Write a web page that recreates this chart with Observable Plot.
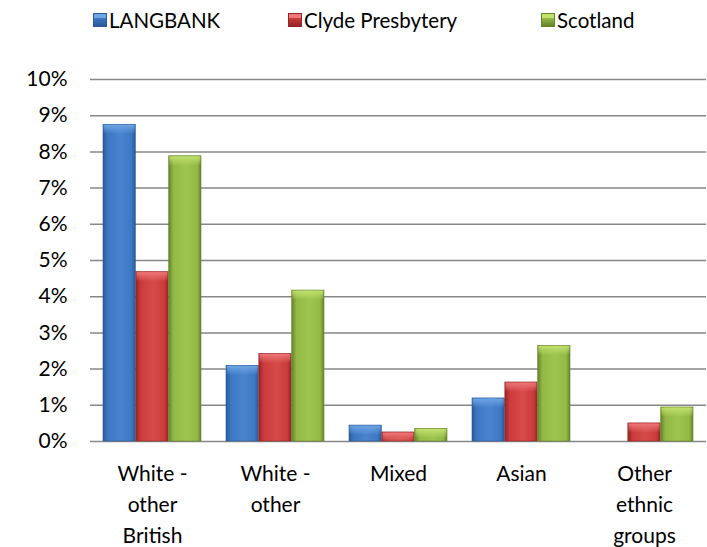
<!DOCTYPE html>
<html>
<head>
<meta charset="utf-8">
<script src="https://cdn.jsdelivr.net/npm/d3@7"></script>
<script src="https://cdn.jsdelivr.net/npm/@observablehq/plot@0.6"></script>
<style>
  body { margin: 0; background: #fff; font-family: Lato, "Open Sans", sans-serif; }
  #legend { position: relative; width: 707px; height: 40px; font-size: 20.5px; color: #000; }
  .item { position: absolute; top: 8px; display: flex; align-items: center; height: 24px; white-space: nowrap; }
  .sw { width: 12px; height: 12px; margin-right: 2px; }
</style>
</head>
<body>
<div id="legend"></div>
<div id="chart"></div>
<script>
const categories = ["White - other British", "White - other", "Mixed", "Asian", "Other ethnic groups"];
const tickLabels = ["White -\nother\nBritish", "White -\nother", "Mixed", "Asian", "Other\nethnic\ngroups"];
const series = ["LANGBANK", "Clyde Presbytery", "Scotland"];
const langbank = [8.75, 2.09, 0.44, 1.19, null];
const clyde = [4.68, 2.42, 0.25, 1.63, 0.50];
const scotland = [7.88, 4.17, 0.35, 2.64, 0.94];
const yTicks = [0, 1, 2, 3, 4, 5, 6, 7, 8, 9, 10];

const values = [langbank, clyde, scotland];
const baseColors = ["#3d78c4", "#cc3b3b", "#93ba46"];
const lightColors = ["#6fa6e6", "#ef7a7a", "#c2e26e"];
const darkColors = ["#2a5a98", "#952525", "#65832b"];

const rows = [];
series.forEach((s, i) => categories.forEach((c, j) => rows.push({series: s, si: i, category: c, value: values[i][j]})));

// legend
const legendLefts = [93, 288, 541];
const legend = document.getElementById("legend");
series.forEach((s, i) => {
  const it = document.createElement("div");
  it.className = "item";
  it.style.left = legendLefts[i] + "px";
  it.innerHTML = `<span class="sw" style="background:linear-gradient(${lightColors[i]} 0 35%, ${baseColors[i]} 35%, ${darkColors[i]});border:0.5px solid ${darkColors[i]}"></span><span>${s}</span>`;
  legend.appendChild(it);
});

const left = 90, right = 706, n = categories.length;
const bw = (right - left) / n * 0.8;
const sub = bw / 3;

const barMarks = series.flatMap((s, i) => {
  const d = rows.filter(r => r.si === i && r.value != null);
  return [
    Plot.barY(d, {
      x: "category", y: "value",
      fill: `url(#bar${i})`, stroke: darkColors[i], strokeWidth: 0.6,
      insetLeft: i * sub, insetRight: (2 - i) * sub,
      style: "filter: drop-shadow(1px 1px 1.5px rgba(0,0,0,0.3))"
    }),
    Plot.barY(d, {
      x: "category", y1: "value", y2: "value",
      fill: `url(#cap${i})`,
      insetLeft: i * sub + 0.6, insetRight: (2 - i) * sub + 0.6, insetTop: 0.6, insetBottom: -9
    })
  ];
});

const chart = Plot.plot({
  width: 707,
  height: 507,
  marginTop: 39,
  marginBottom: 106,
  marginLeft: 90,
  marginRight: 1,
  style: {fontFamily: "Lato, 'Open Sans', sans-serif", fontSize: "21px", color: "#000", background: "#fff"},
  x: {domain: categories, paddingInner: 0.2, paddingOuter: 0.1, axis: null},
  y: {domain: [0, 10], ticks: yTicks, tickFormat: d => d + "%", tickSize: 0, tickPadding: 23, label: null},
  marks: [
    Plot.ruleY(yTicks, {stroke: "#878787", strokeWidth: 1.5}),
    ...barMarks,
    Plot.text(categories, {
      x: d => d, text: (d, i) => tickLabels[i],
      frameAnchor: "bottom", lineAnchor: "top", dy: 17, lineHeight: 1.48, fill: "#000"
    })
  ]
});

const defs = d3.select(chart).insert("defs", ":first-child");
series.forEach((s, i) => {
  const g = defs.append("linearGradient").attr("id", `bar${i}`).attr("x1", 0).attr("x2", 1).attr("y1", 0).attr("y2", 0);
  g.append("stop").attr("offset", "0%").attr("stop-color", darkColors[i]);
  g.append("stop").attr("offset", "15%").attr("stop-color", baseColors[i]);
  g.append("stop").attr("offset", "55%").attr("stop-color", d3.interpolateRgb(baseColors[i], lightColors[i])(0.25));
  g.append("stop").attr("offset", "88%").attr("stop-color", baseColors[i]);
  g.append("stop").attr("offset", "100%").attr("stop-color", darkColors[i]);
  const c = defs.append("linearGradient").attr("id", `cap${i}`).attr("x1", 0).attr("x2", 0).attr("y1", 0).attr("y2", 1);
  c.append("stop").attr("offset", "0%").attr("stop-color", lightColors[i]).attr("stop-opacity", 0.95);
  c.append("stop").attr("offset", "100%").attr("stop-color", lightColors[i]).attr("stop-opacity", 0.1);
});

document.getElementById("chart").appendChild(chart);
</script>
</body>
</html>
